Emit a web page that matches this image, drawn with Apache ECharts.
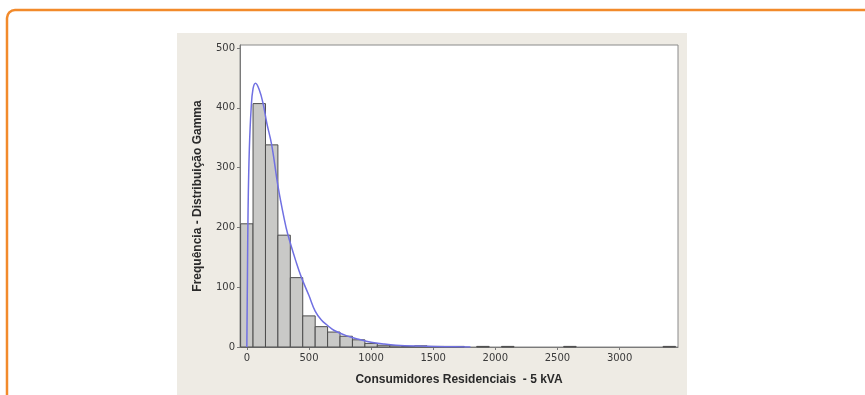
<!DOCTYPE html>
<html>
<head>
<meta charset="utf-8">
<script src="https://cdn.jsdelivr.net/npm/echarts@6/dist/echarts.min.js"></script>
<style>
  html, body { margin: 0; padding: 0; background: #ffffff; }
  #chart { width: 865px; height: 395px; }
</style>
</head>
<body>
<div id="chart"></div>
<script>
// histogram bins (width 100, centred on the value) and counts
const binCenters = [0, 100, 200, 300, 400, 500, 600, 700, 800, 900, 1000, 1100, 1200, 1300, 1400, 1500, 1600, 1700, 1800, 1900, 2000, 2100, 2200, 2300, 2400, 2500, 2600, 2700, 2800, 2900, 3000, 3100, 3200, 3300, 3400]
const binCounts = [206, 407, 338, 187, 116, 52, 34, 25, 18, 12, 6, 3, 2, 1, 2, 1, 1, 1, 0, 1, 0, 1, 0, 0, 0, 0, 1, 0, 0, 0, 0, 0, 0, 0, 1]

// fitted gamma curve
const curveX = [0, 5, 10, 20, 35, 50, 70, 100, 130, 160, 200, 250, 300, 330, 400, 440, 500, 550, 600, 650, 700, 800, 900, 1000, 1100, 1200, 1400, 1600, 1800]
const curveY = [0, 120, 230, 330, 400, 432, 441, 430, 408, 375, 338, 270, 215, 188, 140, 116, 86, 60, 45, 36, 28, 19, 13, 8, 5, 3, 1.5, 0.6, 0.2]

const xTicks = [0, 500, 1000, 1500, 2000, 2500, 3000]
const yTicks = [0, 100, 200, 300, 400, 500]

const binWidth = 100

const chart = echarts.init(document.getElementById('chart'))

const labelStyle = { color: '#3a3a3a', fontSize: 10, fontFamily: 'DejaVu Sans', formatter: v => String(v) }
const nameStyle = { color: '#2a2a2a', fontSize: 12, fontWeight: 'bold', fontFamily: 'Liberation Sans' }

chart.setOption({
  animation: false,
  graphic: [
    {
      type: 'rect',
      z: -10,
      shape: { x: 7, y: 10, width: 900, height: 420, r: 8 },
      style: { fill: '#ffffff', stroke: '#f28a2b', lineWidth: 2.5 }
    },
    {
      type: 'rect',
      z: -9,
      shape: { x: 177, y: 33, width: 510, height: 370 },
      style: { fill: '#eeebe4' }
    }
  ],
  grid: {
    left: 240,
    top: 45,
    right: 187,
    bottom: 48,
    show: true,
    backgroundColor: '#ffffff',
    borderColor: '#8a8a8a',
    borderWidth: 1
  },
  xAxis: {
    type: 'value',
    min: -55,
    max: 3470,
    name: 'Consumidores Residenciais  - 5 kVA',
    nameLocation: 'middle',
    nameGap: 27,
    nameTextStyle: nameStyle,
    splitLine: { show: false },
    axisLine: { show: true, onZero: false, lineStyle: { color: '#7a7a7a' } },
    axisTick: { show: true, customValues: xTicks, length: 3, lineStyle: { color: '#7a7a7a' } },
    axisLabel: Object.assign({ customValues: xTicks, margin: 6 }, labelStyle)
  },
  yAxis: {
    type: 'value',
    min: 0,
    max: 505,
    name: 'Frequência - Distribuição Gamma',
    nameLocation: 'middle',
    nameGap: 36,
    nameTextStyle: nameStyle,
    splitLine: { show: false },
    axisLine: { show: true, onZero: false, lineStyle: { color: '#7a7a7a' } },
    axisTick: { show: true, customValues: yTicks, length: 3, lineStyle: { color: '#7a7a7a' } },
    axisLabel: Object.assign({ customValues: yTicks, margin: 5 }, labelStyle)
  },
  series: [
    {
      type: 'custom',
      name: 'Histograma',
      data: binCenters.map((c, i) => [c, binCounts[i]]),
      renderItem: (params, api) => {
        const c = api.value(0)
        const n = api.value(1)
        if (!n) return
        const p1 = api.coord([c - binWidth / 2, n])
        const p2 = api.coord([c + binWidth / 2, 0])
        return {
          type: 'rect',
          shape: { x: p1[0], y: p1[1], width: p2[0] - p1[0], height: p2[1] - p1[1] },
          style: { fill: '#c9c9c7', stroke: '#4d4d4d', lineWidth: 1 }
        }
      },
      z: 2
    },
    {
      type: 'line',
      name: 'Gamma',
      data: curveX.map((x, i) => [x, curveY[i]]),
      smooth: 0.4,
      showSymbol: false,
      lineStyle: { color: '#7070e2', width: 1.5 },
      z: 3
    }
  ]
})
</script>
</body>
</html>
